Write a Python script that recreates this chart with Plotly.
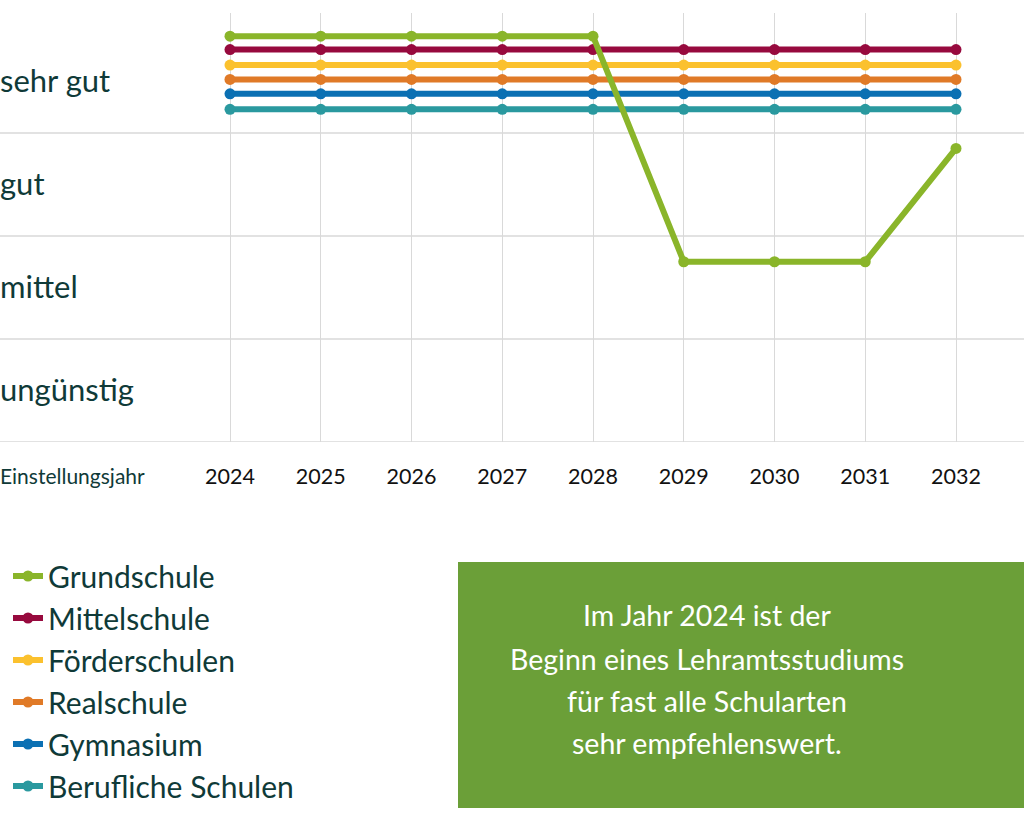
import plotly.graph_objects as go

years = [2024, 2025, 2026, 2027, 2028, 2029, 2030, 2031, 2032]
rating_labels = ["ungünstig", "mittel", "gut", "sehr gut"]
rating_centers = [0.5, 1.5, 2.5, 3.5]

grundschule = [3.94, 3.94, 3.94, 3.94, 3.94, 1.75, 1.75, 1.75, 2.85]
mittelschule = [3.81] * 9
foerderschulen = [3.66] * 9
realschule = [3.52] * 9
gymnasium = [3.38] * 9
berufliche = [3.23] * 9

series_names = ["Grundschule", "Mittelschule", "Förderschulen", "Realschule", "Gymnasium", "Berufliche Schulen"]
series_values = [grundschule, mittelschule, foerderschulen, realschule, gymnasium, berufliche]
series_colors = ["#8ab52a", "#970a3e", "#fbc12e", "#e07a27", "#0b70b3", "#2a999f"]

box_lines = ["Im Jahr 2024 ist der", "Beginn eines Lehramtsstudiums", "für fast alle Schularten", "sehr empfehlenswert."]

TEXT = "#0f3a38"
FONT = "Lato"

fig = go.Figure()
# draw in reverse so Grundschule is on top
for i in reversed(range(len(series_names))):
    fig.add_trace(go.Scatter(
        x=years, y=series_values[i], name=series_names[i],
        mode="lines+markers",
        line=dict(color=series_colors[i], width=6),
        marker=dict(color=series_colors[i], size=11),
        legendgroup=series_names[i], legendrank=i + 1,
    ))

W, H = 1024, 833
top, bottom = 13, 442
plot_h = bottom - top

def py(p):
    return (bottom - p) / plot_h

px_per_year = 90.75
x0 = 2024 - 230 / px_per_year
x1 = 2032 + (W - 956) / px_per_year

fig.update_layout(
    width=W, height=H,
    margin=dict(l=0, r=0, t=top, b=H - bottom, autoexpand=False),
    paper_bgcolor="white", plot_bgcolor="white",
    font=dict(family=FONT, color=TEXT),
    showlegend=True,
    legend=dict(
        x=8 / W, y=py(550), xanchor="left", yanchor="top",
        xref="paper", yref="paper",
        font=dict(size=30, color=TEXT, family=FONT),
        bgcolor="rgba(0,0,0,0)", tracegroupgap=0,
        itemwidth=30,
    ),
    xaxis=dict(
        range=[x0, x1], tickvals=years, ticktext=[str(y) for y in years],
        showgrid=True, gridcolor="#d9d9d9", gridwidth=1,
        zeroline=False, showline=False,
        ticks="outside", ticklen=15, tickcolor="rgba(0,0,0,0)",
        tickfont=dict(size=21.5, color="#111111", family=FONT),
        fixedrange=True,
    ),
    yaxis=dict(
        range=[0, (bottom - top) / 103], tickvals=rating_centers, ticktext=rating_labels,
        showgrid=False, zeroline=False, showline=False,
        ticklabelposition="inside", ticks="", ticklabelstandoff=-3,
        tickfont=dict(size=31, color=TEXT, family=FONT),
        fixedrange=True,
    ),
)

# horizontal band lines
for yv in [0, 1, 2, 3]:
    fig.add_shape(type="line", xref="paper", yref="y", x0=0, x1=1, y0=yv, y1=yv,
                  line=dict(color="#d9d9d9", width=1.5), layer="below")

fig.add_annotation(text="Einstellungsjahr", xref="paper", yref="paper", x=0, y=py(475),
                   xanchor="left", yanchor="middle", showarrow=False, xshift=-2,
                   font=dict(size=21, color=TEXT, family=FONT))

# green box
fig.add_shape(type="rect", xref="paper", yref="paper", x0=458 / W, x1=1.0,
              y0=py(808), y1=py(562), fillcolor="#6b9f38", line=dict(width=0))
line_y = [615, 659, 701, 743]
for txt, ly in zip(box_lines, line_y):
    fig.add_annotation(text=txt, xref="paper", yref="paper", x=707 / W, y=py(ly),
                       xanchor="center", yanchor="middle", showarrow=False,
                       font=dict(size=28.5, color="white", family=FONT))

fig.write_html("out.html", config={"displayModeBar": False},
               post_script="document.body.style.margin='0';")
